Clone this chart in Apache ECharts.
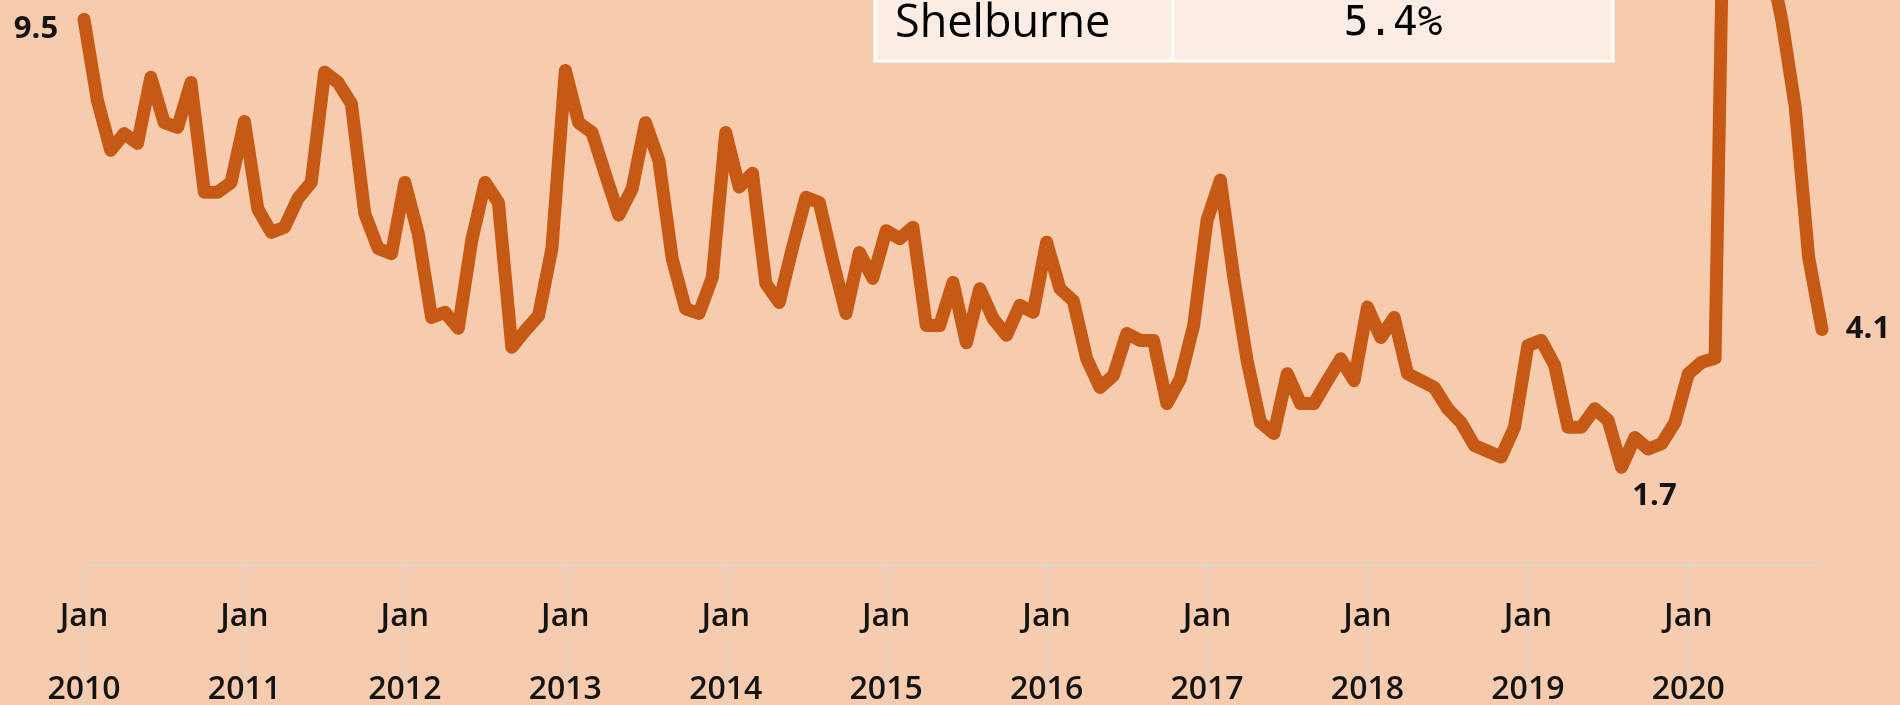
<!DOCTYPE html>
<html>
<head>
<meta charset="utf-8">
<script src="https://cdn.jsdelivr.net/npm/echarts@6/dist/echarts.min.js"></script>
<style>
html,body{margin:0;padding:0;background:#f7cbad;}
#c{width:1900px;height:705px;}
</style>
</head>
<body>
<div id="c"></div>
<script>
// ---- data (monthly rate, %) ----
const years = ['2010','2011','2012','2013','2014','2015','2016','2017','2018','2019','2020'];
const monthNames = ['Jan','Feb','Mar','Apr','May','Jun','Jul','Aug','Sep','Oct','Nov','Dec'];
const rate2010 = [9.5, 8.09, 7.22, 7.51, 7.34, 8.49, 7.70, 7.62, 8.40, 6.49, 6.49, 6.66];
const rate2011 = [7.72, 6.20, 5.79, 5.88, 6.38, 6.66, 8.58, 8.40, 8.03, 6.12, 5.51, 5.42];
const rate2012 = [6.66, 5.77, 4.31, 4.40, 4.12, 5.65, 6.66, 6.31, 3.79, 4.08, 4.34, 5.51];
const rate2013 = [8.61, 7.70, 7.53, 6.80, 6.09, 6.55, 7.70, 7.04, 5.33, 4.46, 4.38, 5.01];
const rate2014 = [7.53, 6.58, 6.82, 4.90, 4.57, 5.53, 6.40, 6.31, 5.30, 4.38, 5.44, 4.99];
const rate2015 = [5.82, 5.68, 5.88, 4.17, 4.17, 4.92, 3.87, 4.81, 4.29, 4.00, 4.52, 4.40];
const rate2016 = [5.62, 4.81, 4.60, 3.59, 3.09, 3.30, 4.03, 3.91, 3.91, 2.81, 3.24, 4.17];
const rate2017 = [6.00, 6.70, 5.01, 3.56, 2.48, 2.29, 3.33, 2.81, 2.81, 3.21, 3.59, 3.21];
const rate2018 = [4.49, 3.96, 4.31, 3.33, 3.21, 3.09, 2.72, 2.48, 2.08, 1.98, 1.88, 2.40];
const rate2019 = [3.82, 3.91, 3.48, 2.40, 2.40, 2.72, 2.52, 1.70, 2.22, 2.02, 2.11, 2.48];
const rate2020 = [3.33, 3.53, 3.60, 16.4, 13.5, 11.9, 10.6, 9.48, 7.97, 5.36, 4.1];
const ratesByYear = [rate2010, rate2011, rate2012, rate2013, rate2014, rate2015, rate2016, rate2017, rate2018, rate2019, rate2020];

// annotated points: [year index, month index]
const annotations = [
  {label: '9.5', year: 0, month: 0, offset: [-48, 10]},
  {label: '1.7', year: 9, month: 7, offset: [33, 29]},
  {label: '4.1', year: 10, month: 10, offset: [46, 0]}
];

// table overlay
const tableName = 'Shelburne';
const tableValue = '5.4%';

// ---- build ----
const categories = [];
const values = [];
years.forEach((y, yi) => {
  ratesByYear[yi].forEach((v, mi) => {
    categories.push(monthNames[mi] + ' ' + y);
    values.push(v);
  });
});

const markData = annotations.map(a => {
  const idx = a.year * 12 + a.month;
  return {
    name: a.label,
    coord: [categories[idx], values[idx]],
    label: {offset: a.offset}
  };
});

const chart = echarts.init(document.getElementById('c'), null, {renderer: 'canvas'});
const labelFont = '"Open Sans", sans-serif';
chart.setOption({
  backgroundColor: '#f7cbad',
  animation: false,
  grid: {left: 84, right: 78, top: 0, bottom: 140, containLabel: false, outerBoundsMode: 'none'},
  xAxis: {
    type: 'category',
    data: categories,
    boundaryGap: false,
    axisLine: {show: true, lineStyle: {color: '#dcd6d0', width: 2}},
    axisTick: {show: true, interval: 11, length: 142, lineStyle: {color: '#dcd6d0', width: 1.5}},
    axisLabel: {
      interval: 11,
      margin: 15,
      color: '#141414',
      fontFamily: labelFont,
      fontWeight: 600,
      fontSize: 32,
      lineHeight: 73,
      formatter: function (val) {
        const parts = val.split(' ');
        return parts[0] + '\n' + parts[1];
      }
    },
    splitLine: {show: false}
  },
  yAxis: {
    type: 'value',
    min: 0,
    max: 9.836,
    show: false
  },
  series: [{
    type: 'line',
    data: values,
    showSymbol: false,
    clip: false,
    silent: true,
    lineStyle: {color: '#c65a14', width: 13, cap: 'round', join: 'round'},
    markPoint: {
      symbol: 'circle',
      symbolSize: 1,
      silent: true,
      itemStyle: {color: 'rgba(0,0,0,0)'},
      label: {
        show: true,
        position: 'inside',
        formatter: '{b}',
        color: '#141414',
        fontFamily: labelFont,
        fontWeight: 'bold',
        fontSize: 31
      },
      data: markData
    }
  }],
  graphic: [
    {type: 'rect', z: 100, shape: {x: 875, y: -40, width: 738, height: 101},
     style: {fill: '#fcede4', stroke: '#ffffff', lineWidth: 3}},
    {type: 'line', z: 101, shape: {x1: 1173, y1: -40, x2: 1173, y2: 61},
     style: {stroke: '#ffffff', lineWidth: 3}},
    {type: 'text', z: 102, x: 895, y: 24,
     style: {text: tableName, font: '45px "Open Sans"', fill: '#000000', align: 'left', verticalAlign: 'middle'}},
    {type: 'text', z: 102, x: 1393, y: 24,
     style: {text: tableValue, font: '41px "DejaVu Sans Mono"', fill: '#000000', align: 'center', verticalAlign: 'middle'}}
  ]
});
</script>
</body>
</html>
